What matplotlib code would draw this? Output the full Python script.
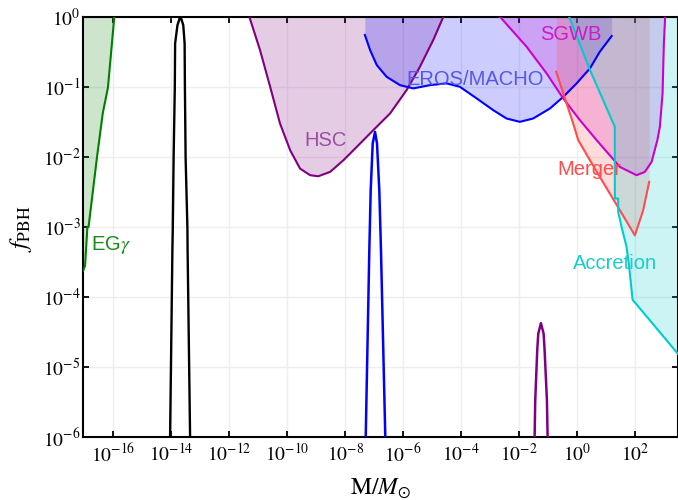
import matplotlib
matplotlib.use("Agg")
import matplotlib.pyplot as plt
import numpy as np
from matplotlib.ticker import LogFormatterMathtext, NullLocator

plt.rcParams.update({
    "font.family": "serif",
    "font.serif": ["STIXGeneral", "Liberation Serif", "DejaVu Serif"],
    "mathtext.fontset": "stix",
    "axes.linewidth": 1.5,
})

# values, as log10(M/Msun) and log10(f_PBH)
egg_logm = [-17.04, -16.98, -16.90, -16.86, -16.57, -16.37, -16.19, -15.97]
egg_logf = [-3.62, -3.55, -3.01, -3.00, -2.01, -1.38, -1.01, 0.0]

hsc_logm = [-11.31, -10.94, -10.59, -10.25, -9.90, -9.56, -9.21, -8.93, -8.52,
            -8.06, -7.60, -7.03, -6.45, -5.88, -5.42, -4.96, -4.61]
hsc_logf = [0.0, -0.476, -1.0, -1.523, -1.904, -2.166, -2.261, -2.276, -2.214,
            -2.047, -1.857, -1.619, -1.380, -1.047, -0.714, -0.333, 0.0]

eros_logm = [-7.32, -7.14, -6.91, -6.57, -6.11, -5.65, -5.07, -4.50, -4.04, -3.46,
             -2.89, -2.43, -1.97, -1.51, -0.93, -0.47, -0.01, 0.45, 0.79, 1.20]
eros_logf = [-0.261, -0.476, -0.69, -0.857, -0.976, -1.023, -0.976, -0.951, -1.0, -1.166,
             -1.333, -1.452, -1.50, -1.452, -1.309, -1.143, -0.951, -0.737, -0.5, -0.276]

sgwb_logm = [-2.657, -1.736, -1.046, -0.473, 0.104, 0.680, 1.484, 2.060, 2.346,
             2.578, 2.778, 2.864, 2.957, 3.002, 3.047]
sgwb_logf = [0.0, -0.429, -0.809, -1.166, -1.476, -1.761, -2.143, -2.261, -2.214,
             -2.071, -1.761, -1.571, -1.094, -0.38, 0.0]

merger_logm = [-0.714, -0.414, -0.128, 0.045, 0.449, 0.794, 1.311, 1.484, 2.001, 2.288, 2.495]
merger_logf = [-0.786, -1.166, -1.523, -1.761, -2.047, -2.286, -2.643, -2.761, -3.119, -2.761, -2.357]

accr_logm = [-0.27, 0.45, 1.31, 1.31, 1.425, 1.425, 1.542, 1.715, 1.805, 1.922, 3.55]
accr_logf = [0.0, -0.76, -1.571, -2.594, -2.594, -2.786, -3.00, -3.286, -3.571, -4.037, -4.84]

# peaked curves (f_PBH of the models)
black_logm = [-14.045, -13.965, -13.951, -13.923, -13.882, -13.871, -13.790, -13.688,
              -13.590, -13.543, -13.533, -13.509, -13.447, -13.440, -13.354]
black_logf = [-6.0, -3.333, -3.009, -2.009, -1.009, -0.38, -0.12, 0.01,
              -0.12, -0.38, -1.009, -2.009, -3.009, -3.333, -6.0]

blue_logm = [-7.291, -7.167, -7.119, -7.050, -6.970, -6.901, -6.822, -6.764, -6.615]
blue_logf = [-6.0, -3.333, -2.476, -1.809, -1.643, -1.809, -2.476, -3.333, -6.0]

purple_logm = [-1.460, -1.439, -1.370, -1.335, -1.242, -1.149, -1.115, -1.035, -1.011]
purple_logf = [-6.0, -5.476, -4.761, -4.523, -4.371, -4.523, -4.761, -5.476, -6.0]

xticks = [1e-16, 1e-14, 1e-12, 1e-10, 1e-8, 1e-6, 1e-4, 1e-2, 1e0, 1e2]
yticks = [1e-6, 1e-5, 1e-4, 1e-3, 1e-2, 1e-1, 1e0]


def p(a):
    return 10.0 ** np.asarray(a)


fig = plt.figure(figsize=(6.78, 5.0), dpi=100)
ax = fig.add_axes([0.1229, 0.1254, 0.8771, 0.8412])
ax.set_xscale("log")
ax.set_yscale("log")

regions = [
    (egg_logm, egg_logf, "#008000"),
    (hsc_logm, hsc_logf, "#800080"),
    (eros_logm, eros_logf, "#0000ff"),
    (sgwb_logm, sgwb_logf, "#cc00cc"),
    (merger_logm, merger_logf, "#ff4d4d"),
    (accr_logm, accr_logf, "#00cccc"),
]
for lm, lf, c in regions:
    ax.fill_between(p(lm), p(lf), 1.0, color=c, alpha=0.2, lw=0, zorder=1)
for lm, lf, c in regions:
    ax.plot(p(lm), p(lf), color=c, lw=1.5, zorder=3)

ax.plot(p(black_logm), p(black_logf), color="black", lw=1.7, zorder=4)
ax.plot(p(blue_logm), p(blue_logf), color="#0000ff", lw=1.8, zorder=4)
ax.plot(p(purple_logm), p(purple_logf), color="#800080", lw=1.8, zorder=4)

lab = dict(family=["Liberation Sans", "DejaVu Sans"], fontsize=14.5, ha="left", va="baseline", zorder=5)
ax.text(10**-9.42, 10**-1.847, "HSC", color="#a04ca4", **lab)
ax.text(10**-5.876, 10**-0.976, "EROS/MACHO", color="#5656ee", **lab)
ax.text(10**-1.277, 10**-0.333, "SGWB", color="#cc1acc", **lab)
ax.text(10**-0.68, 10**-2.261, "Merger", color="#ff4d4d", **lab)
ax.text(10**-0.148, 10**-3.594, "Accretion", color="#1ccccc", **lab)
ax.text(10**-16.78, 10**-3.333, "EG$\\gamma$", color="#1a8a1a", **lab)

ax.set_xlim(10**-17.04, 10**3.49)
ax.set_ylim(1e-6, 1.0)
ax.set_xticks(xticks)
ax.set_yticks(yticks)
ax.xaxis.set_minor_locator(NullLocator())
ax.yaxis.set_minor_locator(NullLocator())
ax.xaxis.set_major_formatter(LogFormatterMathtext())
ax.yaxis.set_major_formatter(LogFormatterMathtext())
ax.tick_params(which="major", direction="in", top=True, right=True,
               length=4, width=1.3, labelsize=14)
ax.tick_params(axis="x", pad=4)
ax.tick_params(axis="y", pad=2)
ax.grid(True, color="#eeeeee", lw=1.0, zorder=0)
ax.set_axisbelow(True)

ax.set_xlabel(r"$\mathrm{M}/M_{\odot}$", fontsize=17)
ax.xaxis.set_label_coords(0.5, -0.094)
fig.text(21 / 678, 1 - 229 / 500, r"$f_{\mathrm{PBH}}$", fontsize=18,
         rotation=90, ha="center", va="center")

fig.savefig("out.png", dpi=100)
